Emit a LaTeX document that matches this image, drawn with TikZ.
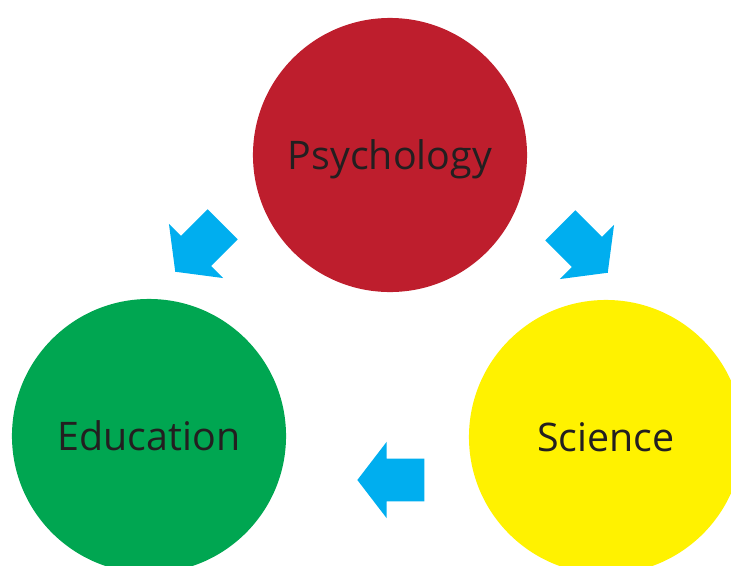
\documentclass[tikz,border=0pt]{standalone}
\usepackage{fontspec}
\setmainfont{Open Sans}
\usepackage{xcolor}
\usepackage{tikz}
\usetikzlibrary{shapes,arrows,positioning,calc}

\definecolor{psyred}{HTML}{BE1E2D}
\definecolor{edugreen}{HTML}{00A651}
\definecolor{sciyellow}{HTML}{FFF200}
\definecolor{arrowblue}{HTML}{00AEEF}
\definecolor{darktext}{HTML}{231F20}

\tikzset{
    field/.style={circle, minimum size=6.85cm, inner sep=0pt, text=darktext,
        font=\fontsize{28}{30}\selectfont, text height=0.7cm, text depth=0pt},
    blockarrow/.style={single arrow, fill=arrowblue, draw=none, anchor=tip,
        minimum height=1.675cm, inner xsep=0pt, inner ysep=0.525cm,
        single arrow head extend=0.425cm, single arrow tip angle=105}
}

\begin{document}
\begin{tikzpicture}[x=0.025cm, y=-0.025cm]
    \useasboundingbox (0,0) rectangle (731,566);
    \clip (0,0) rectangle (731,566);

    % Fields
    \node[field, fill=psyred] at (390,155) (psy) {Psychology};
    \node[field, fill=edugreen] at (149,436) (edu) {Education};
    \node[field, fill=sciyellow] at (606,437) (sci) {Science};

    % Arrows between fields
    \node[blockarrow, rotate=225] at (175,272) (arr1) {};
    \node[blockarrow, rotate=-45] at (608,273) (arr2) {};
    \node[blockarrow, rotate=180] at (357,480) (arr3) {};
\end{tikzpicture}
\end{document}
